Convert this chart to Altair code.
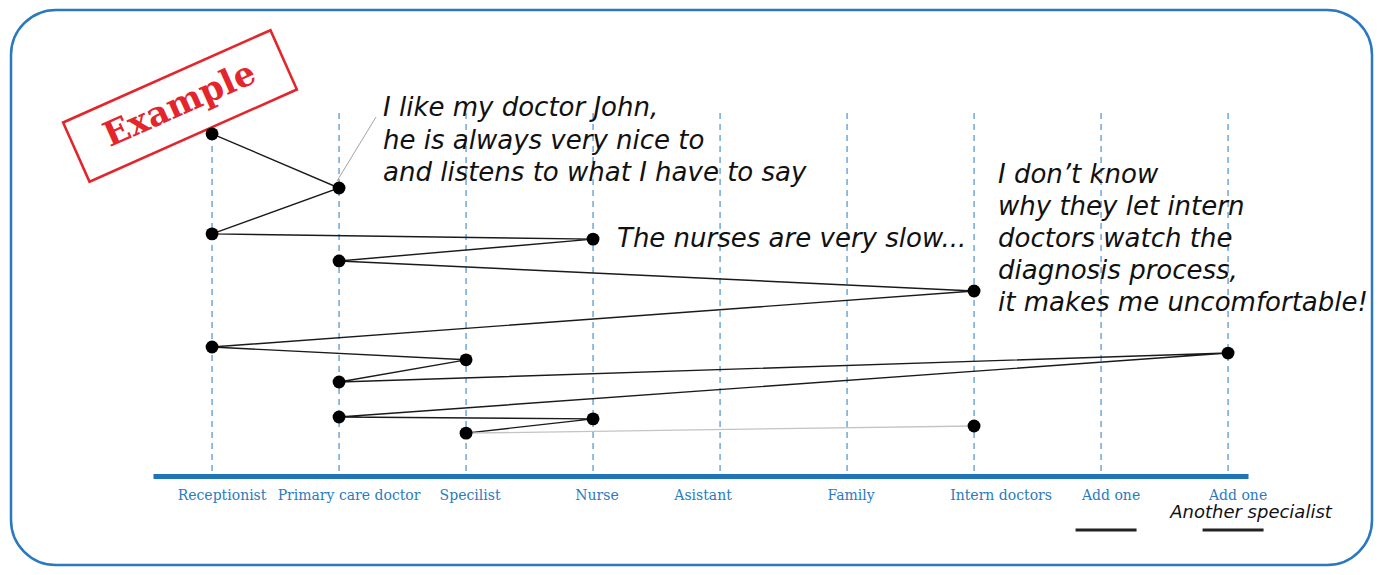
import altair as alt
import pandas as pd

# ---------------- data ----------------
categories = ["Receptionist", "Primary care doctor", "Specilist", "Nurse", "Asistant",
              "Family", "Intern doctors", "Add one", "Add one"]
category_index = list(range(len(categories)))

# journey: order of visits, which actor (index into categories), and time position (0 top .. 100 bottom)
visit_step = list(range(1, 15))
visit_category = [0, 1, 0, 3, 1, 6, 0, 2, 1, 8, 1, 3, 2, 6]
visit_time = [9.0, 23.4, 35.6, 37.0, 42.8, 50.8, 65.7, 69.1, 75.0, 67.3, 84.3, 84.8, 88.6, 86.7]

quote_doctor = ["I like my doctor John,", "he is always very nice to",
                "and listens to what I have to say"]
quote_nurse = "The nurses are very slow..."
quote_intern = ["I don\u2019t know", "why they let intern", "doctors watch the",
                "diagnosis process,", "it makes me uncomfortable!"]
note_specialist = "Another specialist"
stamp_text = "Example"

# ---------------- styling ----------------
BLUE = "#2a7bbf"
AXIS_BLUE = "#1f73b8"
RED = "#e3262c"
HAND = "DejaVu Sans"
SLAB = "DejaVu Serif"

visits = pd.DataFrame({"step": visit_step, "idx": visit_category, "t": visit_time})
guides = pd.DataFrame({"idx": category_index, "name": categories})
one = pd.DataFrame({"k": [0]})

xaxis = alt.Axis(values=category_index, ticks=False, grid=False, labels=False, title=None,
                 domainColor=AXIS_BLUE, domainWidth=5)
xscale = alt.Scale(domain=[-0.465, 8.157], nice=False, zero=False)
yscale = alt.Scale(domain=[0, 100], reverse=True, nice=False, zero=False)

X = alt.X("idx:Q", scale=xscale, axis=xaxis)
Y = alt.Y("t:Q", scale=yscale, axis=None)

guide_rules = alt.Chart(guides).mark_rule(
    color="#3b87c9", strokeDash=[6, 5], strokeWidth=1.1
).encode(x=X, y=alt.value(13), y2=alt.value(376))

# category labels under the axis line (small hand-set nudges in pixels -> data units)
cat_labels = alt.Chart(guides).transform_calculate(
    lx="datum.idx + (datum.idx == 4 ? -17 : datum.idx == 6 ? 27 : "
       "(datum.idx >= 2 && datum.idx <= 5) ? 4 : 10) / 127"
).mark_text(font=SLAB, fontSize=14, color=BLUE, align="center", baseline="middle").encode(
    x=alt.X("lx:Q", scale=xscale, axis=xaxis), y=alt.value(396), text="name:N")

frame = alt.Chart(one).mark_rect(
    cornerRadius=45, fillOpacity=0, stroke="#2a78c0", strokeWidth=2.5
).encode(x=alt.value(-142), x2=alt.value(1219), y=alt.value(-90), y2=alt.value(465))

stamp_box = alt.Chart(one).mark_point(
    shape="M-1,-0.286L1,-0.286L1,0.286L-1,0.286Z", size=51529, angle=336,
    filled=True, fill="white", stroke=RED, strokeWidth=2.6, opacity=1
).encode(x=alt.value(27), y=alt.value(6))

stamp_label = alt.Chart(one).mark_text(
    text=stamp_text, font=SLAB, fontWeight="bold", fontSize=34, color=RED,
    angle=336, align="center", baseline="middle"
).encode(x=alt.value(27), y=alt.value(5))

path_main = alt.Chart(visits).transform_filter("datum.step <= 13").mark_line(
    color="#1a1a1a", strokeWidth=1.4
).encode(x=X, y=Y, order="step:Q")

path_fade = alt.Chart(visits).transform_filter("datum.step >= 13").mark_line(
    color="#c4c4c4", strokeWidth=1.3
).encode(x=X, y=Y, order="step:Q")

dots = alt.Chart(visits).mark_circle(size=165, color="black", opacity=1).encode(x=X, y=Y)

leader = alt.Chart(one).mark_rule(color="#8a8a8a", strokeWidth=0.8).encode(
    x=alt.value(184), y=alt.value(81), x2=alt.value(223), y2=alt.value(17))

txt_kw = dict(font=HAND, fontStyle="italic", fontWeight=300, fontSize=26, color="#111",
              align="left", baseline="middle")

doctor_txt = alt.Chart(one).mark_text(text=quote_doctor, lineHeight=32.5, **txt_kw).encode(
    x=alt.value(230), y=alt.value(8))
nurse_txt = alt.Chart(one).mark_text(text=quote_nurse, **txt_kw).encode(
    x=alt.value(464), y=alt.value(139))
intern_txt = alt.Chart(one).mark_text(text=quote_intern, lineHeight=32, **txt_kw).encode(
    x=alt.value(845), y=alt.value(75))

spec_txt = alt.Chart(one).mark_text(
    text=note_specialist, font=HAND, fontStyle="italic", fontWeight=300, fontSize=18,
    color="#111", align="center", baseline="middle"
).encode(x=alt.value(1098), y=alt.value(413))

underlines = alt.Chart(pd.DataFrame({"idx": [7, 8]})).mark_tick(
    orient="horizontal", size=61, thickness=3, color="#222", opacity=1, xOffset=5
).encode(x=X, y=alt.value(430))

chart = alt.layer(
    guide_rules, frame, stamp_box, stamp_label, path_main, path_fade, dots,
    leader, doctor_txt, nurse_txt, intern_txt, cat_labels, spec_txt, underlines
).properties(
    width=1095, height=376,
    autosize=alt.AutoSizeParams(type="none"),
    padding={"left": 145, "top": 92, "right": 126, "bottom": 91},
    background="white",
).configure_view(strokeWidth=0)

chart.save("out.html", embed_options={"renderer": "svg", "actions": False})
